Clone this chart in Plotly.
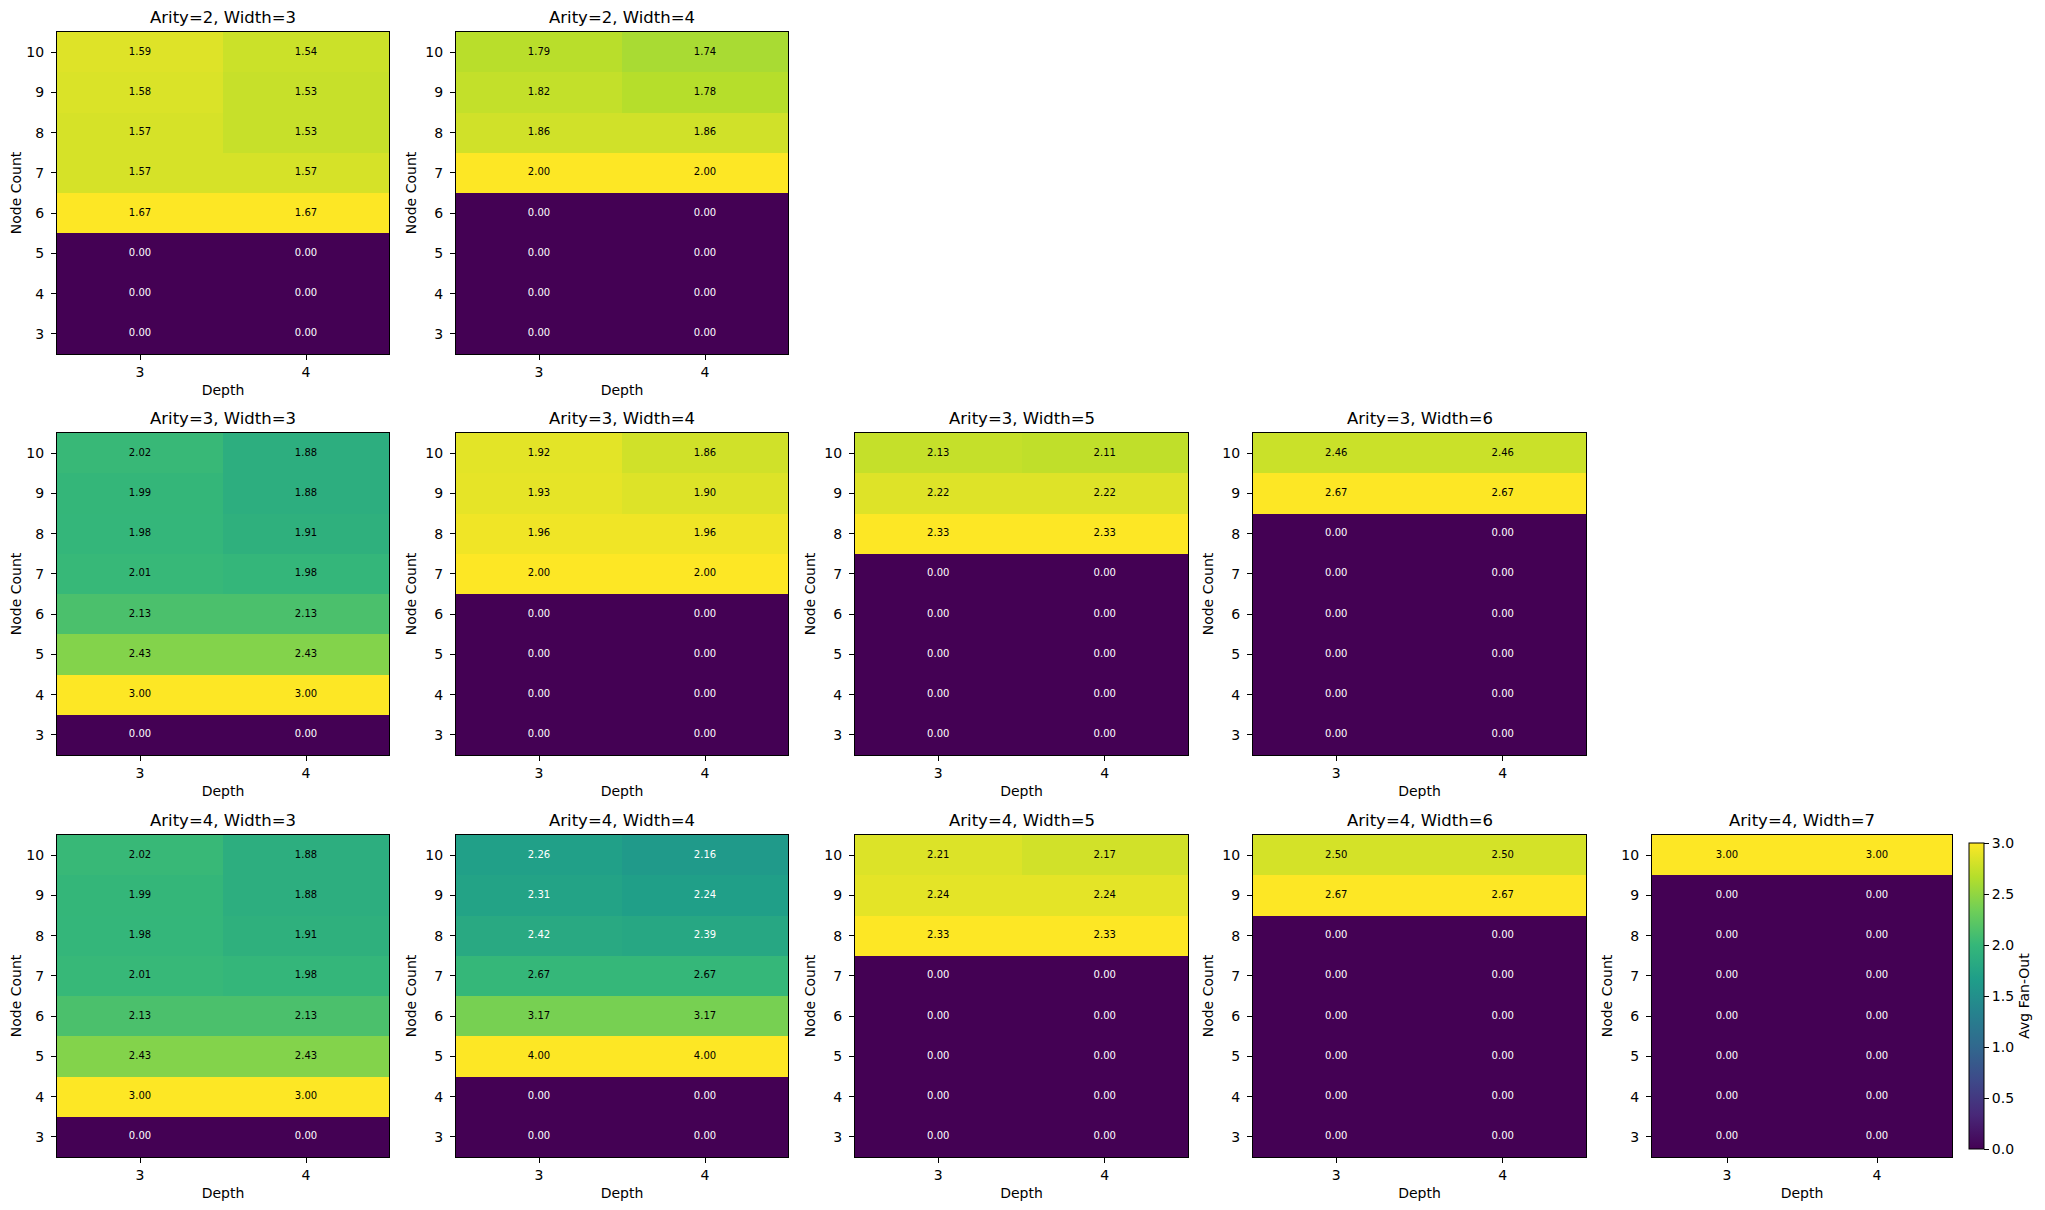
import plotly.graph_objects as go

W, H = 2045, 1210
OFF = 8               # default browser body margin around the plot div
FW, FH = W - 2 * OFF, H - 2 * OFF

depths = [3, 4]
node_counts = [3, 4, 5, 6, 7, 8, 9, 10]

# values listed for node counts 3..10, per depth
a2_w3_d3 = [0.00, 0.00, 0.00, 1.67, 1.57, 1.57, 1.58, 1.59]
a2_w3_d4 = [0.00, 0.00, 0.00, 1.67, 1.57, 1.53, 1.53, 1.54]
a2_w4_d3 = [0.00, 0.00, 0.00, 0.00, 2.00, 1.86, 1.82, 1.79]
a2_w4_d4 = [0.00, 0.00, 0.00, 0.00, 2.00, 1.86, 1.78, 1.74]

a3_w3_d3 = [0.00, 3.00, 2.43, 2.13, 2.01, 1.98, 1.99, 2.02]
a3_w3_d4 = [0.00, 3.00, 2.43, 2.13, 1.98, 1.91, 1.88, 1.88]
a3_w4_d3 = [0.00, 0.00, 0.00, 0.00, 2.00, 1.96, 1.93, 1.92]
a3_w4_d4 = [0.00, 0.00, 0.00, 0.00, 2.00, 1.96, 1.90, 1.86]
a3_w5_d3 = [0.00, 0.00, 0.00, 0.00, 0.00, 2.33, 2.22, 2.13]
a3_w5_d4 = [0.00, 0.00, 0.00, 0.00, 0.00, 2.33, 2.22, 2.11]
a3_w6_d3 = [0.00, 0.00, 0.00, 0.00, 0.00, 0.00, 2.67, 2.46]
a3_w6_d4 = [0.00, 0.00, 0.00, 0.00, 0.00, 0.00, 2.67, 2.46]

a4_w3_d3 = [0.00, 3.00, 2.43, 2.13, 2.01, 1.98, 1.99, 2.02]
a4_w3_d4 = [0.00, 3.00, 2.43, 2.13, 1.98, 1.91, 1.88, 1.88]
a4_w4_d3 = [0.00, 0.00, 4.00, 3.17, 2.67, 2.42, 2.31, 2.26]
a4_w4_d4 = [0.00, 0.00, 4.00, 3.17, 2.67, 2.39, 2.24, 2.16]
a4_w5_d3 = [0.00, 0.00, 0.00, 0.00, 0.00, 2.33, 2.24, 2.21]
a4_w5_d4 = [0.00, 0.00, 0.00, 0.00, 0.00, 2.33, 2.24, 2.17]
a4_w6_d3 = [0.00, 0.00, 0.00, 0.00, 0.00, 0.00, 2.67, 2.50]
a4_w6_d4 = [0.00, 0.00, 0.00, 0.00, 0.00, 0.00, 2.67, 2.50]
a4_w7_d3 = [0.00, 0.00, 0.00, 0.00, 0.00, 0.00, 0.00, 3.00]
a4_w7_d4 = [0.00, 0.00, 0.00, 0.00, 0.00, 0.00, 0.00, 3.00]

# (arity, width, row, col, depth3 values, depth4 values)
panels = [
    (2, 3, 0, 0, a2_w3_d3, a2_w3_d4),
    (2, 4, 0, 1, a2_w4_d3, a2_w4_d4),
    (3, 3, 1, 0, a3_w3_d3, a3_w3_d4),
    (3, 4, 1, 1, a3_w4_d3, a3_w4_d4),
    (3, 5, 1, 2, a3_w5_d3, a3_w5_d4),
    (3, 6, 1, 3, a3_w6_d3, a3_w6_d4),
    (4, 3, 2, 0, a4_w3_d3, a4_w3_d4),
    (4, 4, 2, 1, a4_w4_d3, a4_w4_d4),
    (4, 5, 2, 2, a4_w5_d3, a4_w5_d4),
    (4, 6, 2, 3, a4_w6_d3, a4_w6_d4),
    (4, 7, 2, 4, a4_w7_d3, a4_w7_d4),
]

# pixel layout of axes boxes (page coordinates)
col_px = [(57, 389), (456, 788), (855, 1188), (1253, 1586), (1652, 1952)]
row_px = [(32, 354), (433, 755), (835, 1157)]


def px_x(p):
    return (p - OFF) / FW


def px_y(p):
    return 1 - (p - OFF) / FH


FONT = "DejaVu Sans"
fig = go.Figure()
layout = dict(
    width=FW, height=FH,
    margin=dict(l=0, r=0, t=0, b=0),
    paper_bgcolor="white", plot_bgcolor="white",
    font=dict(family=FONT, size=14, color="black"),
    showlegend=False,
    annotations=[],
)

for k, (ar, wd, r, c, d3, d4) in enumerate(panels):
    idx = k + 1
    xa = "x" if idx == 1 else f"x{idx}"
    ya = "y" if idx == 1 else f"y{idx}"
    z = [[d3[i], d4[i]] for i in range(len(node_counts))]
    zmax = max(max(d3), max(d4))
    last = (k == len(panels) - 1)
    hm = go.Heatmap(
        x=depths, y=node_counts, z=z, xaxis=xa, yaxis=ya,
        colorscale="Viridis", zmin=0, zmax=zmax,
        showscale=last, hoverinfo="skip",
    )
    if last:
        hm.colorbar = dict(
            x=px_x(1969), xanchor="left", xpad=0, ypad=0,
            y=px_y((843 + 1149) / 2), yanchor="middle",
            len=(1149 - 843) / FH, lenmode="fraction",
            thickness=15, thicknessmode="pixels",
            outlinewidth=1, outlinecolor="black",
            tickvals=[0, 0.5, 1.0, 1.5, 2.0, 2.5, 3.0],
            tickformat=".1f", ticks="outside", ticklen=5, tickcolor="black",
            tickfont=dict(family=FONT, size=14, color="black"),
            title=dict(text="Avg Fan-Out", side="right",
                       font=dict(family=FONT, size=14, color="black")),
        )
    fig.add_trace(hm)

    xs, ys, ts, cs = [], [], [], []
    for i, n in enumerate(node_counts):
        for j, dpt in enumerate(depths):
            v = z[i][j]
            xs.append(dpt); ys.append(n); ts.append(f"{v:.2f}")
            cs.append("white" if v / zmax < 0.615 else "black")
    fig.add_trace(go.Scatter(
        x=xs, y=ys, text=ts, mode="text", xaxis=xa, yaxis=ya,
        textfont=dict(family=FONT, size=10, color=cs),
        hoverinfo="skip",
    ))

    x0, x1 = col_px[c]
    y0, y1 = row_px[r]
    axname_x = "xaxis" if idx == 1 else f"xaxis{idx}"
    axname_y = "yaxis" if idx == 1 else f"yaxis{idx}"
    layout[axname_x] = dict(
        domain=[px_x(x0), px_x(x1)], anchor=ya, range=[2.5, 4.5],
        tickvals=depths, ticks="outside", ticklen=5, tickwidth=1, tickcolor="black",
        showline=True, mirror=True, linecolor="black", linewidth=1,
        showgrid=False, zeroline=False, fixedrange=True,
        tickfont=dict(family=FONT, size=14, color="black"),
        title=dict(text="Depth", standoff=6, font=dict(family=FONT, size=14, color="black")),
    )
    layout[axname_y] = dict(
        domain=[px_y(y1), px_y(y0)], anchor=xa, range=[2.5, 10.5],
        tickvals=node_counts, ticks="outside", ticklen=5, tickwidth=1, tickcolor="black",
        ticklabelstandoff=4,
        showline=True, mirror=True, linecolor="black", linewidth=1,
        showgrid=False, zeroline=False, fixedrange=True,
        tickfont=dict(family=FONT, size=14, color="black"),
        title=dict(text="Node Count", standoff=5, font=dict(family=FONT, size=14, color="black")),
    )
    layout["annotations"].append(dict(
        text=f"Arity={ar}, Width={wd}", xref="paper", yref="paper",
        x=px_x((x0 + x1) / 2), y=px_y(y0), xanchor="center", yanchor="bottom",
        yshift=3, showarrow=False, font=dict(family=FONT, size=16.5, color="black"),
    ))

fig.update_layout(**layout)
fig.write_html("out.html")
